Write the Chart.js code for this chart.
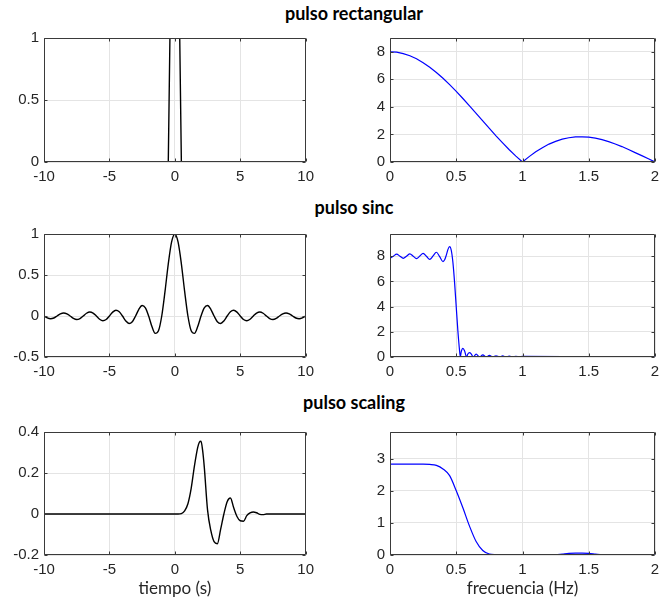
<!DOCTYPE html>
<html><head><meta charset="utf-8">
<script src="https://cdn.jsdelivr.net/npm/chart.js@4/dist/chart.umd.min.js"></script>
<style>
html,body{margin:0;padding:0;background:#fff;}
body{width:666px;height:604px;position:relative;overflow:hidden;}
.t{position:absolute;left:234px;width:240px;text-align:center;font-family:Lato,sans-serif;font-weight:bold;font-size:18px;line-height:22px;color:#000;white-space:nowrap;}
canvas{position:absolute;}
</style></head><body>
<div class="t" style="top:1.5px">pulso rectangular</div>
<div class="t" style="top:196px">pulso sinc</div>
<div class="t" style="top:390.5px">pulso scaling</div>
<script>
// ---- data ----
const tRect = [-10, -0.5, -0.375, 0.375, 0.5, 10];
const yRect = [0, 0, 1, 1, 0, 0];

const fRect = [0,0.05,0.1,0.15,0.2,0.25,0.3,0.35,0.4,0.45,0.5,0.55,0.6,0.65,0.7,0.75,0.8,0.85,0.9,0.95,1,1.05,1.1,1.15,1.2,1.25,1.3,1.35,1.4,1.45,1.5,1.55,1.6,1.65,1.7,1.75,1.8,1.85,1.9,1.95,2];
const magRect = [8.00,7.97,7.87,7.71,7.49,7.21,6.88,6.50,6.08,5.62,5.13,4.61,4.07,3.53,2.98,2.44,1.90,1.39,0.89,0.43,0.00,0.39,0.74,1.04,1.30,1.50,1.66,1.76,1.82,1.83,1.80,1.73,1.62,1.48,1.31,1.12,0.91,0.68,0.46,0.23,0.00];

const tSinc = [-10,-9.75,-9.5,-9.25,-9,-8.75,-8.5,-8.25,-8,-7.75,-7.5,-7.25,-7,-6.75,-6.5,-6.25,-6,-5.75,-5.5,-5.25,-5,-4.75,-4.5,-4.25,-4,-3.75,-3.5,-3.25,-3,-2.75,-2.5,-2.25,-2,-1.75,-1.5,-1.25,-1,-0.75,-0.5,-0.25,0,0.25,0.5,0.75,1,1.25,1.5,1.75,2,2.25,2.5,2.75,3,3.25,3.5,3.75,4,4.25,4.5,4.75,5,5.25,5.5,5.75,6,6.25,6.5,6.75,7,7.25,7.5,7.75,8,8.25,8.5,8.75,9,9.25,9.5,9.75,10];
const ySinc = [0,-0.0231,-0.0335,-0.0243,0,0.0257,0.0374,0.0273,0,-0.0290,-0.0424,-0.0310,0,0.0333,0.0490,0.0360,0,-0.0391,-0.0579,-0.0429,0,0.0474,0.0707,0.0530,0,-0.0600,-0.0909,-0.0693,0,0.0818,0.1273,0.1000,0,-0.1286,-0.2122,-0.1801,0,0.3001,0.6366,0.9003,1,0.9003,0.6366,0.3001,0,-0.1801,-0.2122,-0.1286,0,0.1000,0.1273,0.0818,0,-0.0693,-0.0909,-0.0600,0,0.0530,0.0707,0.0474,0,-0.0429,-0.0579,-0.0391,0,0.0360,0.0490,0.0333,0,-0.0310,-0.0424,-0.0290,0,0.0273,0.0374,0.0257,0,-0.0243,-0.0335,-0.0231,0];

const fSinc = [0,0.025,0.05,0.075,0.1,0.125,0.15,0.175,0.2,0.225,0.25,0.275,0.3,0.325,0.35,0.375,0.4,0.4125,0.425,0.4375,0.45,0.4625,0.475,0.4875,0.5,0.5125,0.525,0.531,0.5375,0.55,0.5625,0.578,0.5875,0.6,0.6125,0.628,0.65,0.677,0.7,0.727,0.75,0.777,0.8,0.827,0.85,0.877,0.9,0.927,0.95,0.977,1.0,1.5,2.0];
const magSinc = [7.84,8.00,8.16,8.00,7.83,8.00,8.18,8.00,7.81,8.01,8.22,7.99,7.75,8.02,8.31,7.96,7.57,7.71,8.08,8.54,8.76,8.46,7.49,5.90,3.96,2.04,0.51,0.00,0.41,0.68,0.50,0.00,0.24,0.35,0.25,0.00,0.23,0.00,0.17,0.00,0.13,0.00,0.10,0.00,0.09,0.00,0.07,0.00,0.06,0.00,0.05,0.02,0.00];

const tScal = [-10,0,0.25,0.5,0.75,1,1.25,1.5,1.75,1.875,2,2.125,2.25,2.5,2.75,3,3.25,3.5,3.75,4,4.25,4.5,4.75,5,5.25,5.5,5.75,6,6.25,6.5,6.75,7,10];
const yScal = [0,0,0,0.002,0.015,0.05,0.125,0.235,0.325,0.350,0.355,0.31,0.23,0.02,-0.08,-0.135,-0.145,-0.075,0,0.06,0.078,0.03,-0.012,-0.033,-0.035,-0.008,0.005,0.01,0.006,-0.002,-0.003,0,0];

const fScal = [0,0.05,0.1,0.15,0.2,0.25,0.3,0.35,0.4,0.45,0.5,0.55,0.6,0.65,0.7,0.75,0.8,0.85,0.9,0.95,1,1.05,1.1,1.15,1.2,1.25,1.3,1.35,1.4,1.45,1.5,1.55,1.6,1.65,1.7,1.75,1.8,1.85,1.9,1.95,2];
const magScal = [2.83,2.83,2.83,2.83,2.83,2.83,2.82,2.79,2.68,2.47,2.00,1.47,0.90,0.42,0.14,0.03,0.01,0,0,0,0,0,0,0,0,0.01,0.03,0.05,0.06,0.06,0.05,0.03,0.01,0,0,0,0,0,0,0,0];

// tick values
const timeTicks = [-10,-5,0,5,10];
const freqTicks = [0,0.5,1,1.5,2];
const yTicksRect = [0,0.5,1];
const yTicksSinc = [-0.5,0,0.5,1];
const yTicksScal = [-0.2,0,0.2,0.4];
const yTicksMag8 = [0,2,4,6,8];
const yTicksMag3 = [0,1,2,3];

const xLabelTime = 'tiempo (s)';
const xLabelFreq = 'frecuencia (Hz)';

// ---- drawing ----
const TICKFONT = {family:"'Liberation Sans', Arial, sans-serif", size:15};
const TXT = '#262626';
const fmt = v => String(Math.round(v*1000)/1000);
const boxPlugin = {
  id:'boxPlugin',
  afterDatasetsDraw(chart){
    const {ctx, chartArea:a, scales} = chart;
    ctx.save();
    ctx.strokeStyle = '#3a3a3a';
    ctx.lineWidth = 1;
    ctx.beginPath();
    const L=Math.round(a.left)+0.5, R=Math.round(a.right)-0.5, T=Math.round(a.top)+0.5, B=Math.round(a.bottom)-0.5;
    ctx.rect(L, T, R-L, B-T);
    const tl = 3;
    scales.x.ticks.forEach(tk=>{
      const px = Math.round(scales.x.getPixelForValue(tk.value))+0.5;
      ctx.moveTo(px,B); ctx.lineTo(px,B-tl);
      ctx.moveTo(px,T); ctx.lineTo(px,T+tl);
    });
    scales.y.ticks.forEach(tk=>{
      const py = Math.round(scales.y.getPixelForValue(tk.value))+0.5;
      ctx.moveTo(L,py); ctx.lineTo(L+tl,py);
      ctx.moveTo(R,py); ctx.lineTo(R-tl,py);
    });
    ctx.stroke();
    ctx.restore();
  }
};

function panel(p){
  const [cx,cy,W,H] = p.box;
  const [l,t,r,b] = p.area;
  const cv = document.createElement('canvas');
  cv.width = W; cv.height = H;
  cv.style.left = cx+'px'; cv.style.top = cy+'px';
  cv.style.width = W+'px'; cv.style.height = H+'px';
  document.body.appendChild(cv);
  const ds = {
    data: p.xs.map((x,i)=>({x:x, y:p.ys[i]})),
    showLine:true, borderColor:p.color, borderWidth:p.lw,
    pointRadius:0, fill:false
  };
  if (p.smooth) { ds.cubicInterpolationMode = 'monotone'; } else { ds.tension = 0; }
  return new Chart(cv, {
    type:'scatter',
    data:{datasets:[ds]},
    options:{
      responsive:false, animation:false, events:[],
      layout:{padding:{top:t-cy, right:cx+W-r, left:0, bottom:0}},
      plugins:{legend:{display:false}, tooltip:{enabled:false}, title:{display:false}},
      scales:{
        x:{
          type:'linear', min:p.xmin, max:p.xmax,
          afterFit: s=>{ s.height = cy+H-b; },
          afterBuildTicks: s=>{ s.ticks = p.xticks.map(v=>({value:v})); },
          grid:{color:'#e4e4e4', drawTicks:false, lineWidth:1},
          border:{display:false},
          ticks:{font:TICKFONT, color:TXT, padding:6, maxRotation:0, autoSkip:false, callback:fmt},
          title: p.xlabel ? {display:true, text:p.xlabel, color:TXT, font:{family:'Lato, sans-serif', size:17}, padding:{top:0,bottom:5}} : {display:false}
        },
        y:{
          type:'linear', min:p.ymin, max:p.ymax,
          afterFit: s=>{ s.width = l-cx; },
          afterBuildTicks: s=>{ s.ticks = p.yticks.map(v=>({value:v})); },
          grid:{color:'#e4e4e4', drawTicks:false, lineWidth:1},
          border:{display:false},
          ticks:{font:TICKFONT, color:TXT, padding:5, autoSkip:false, callback:fmt}
        }
      }
    },
    plugins:[boxPlugin]
  });
}

const BLK = '#000000', BLU = '#0000ff';
panel({box:[0,24,320,166], area:[44,33,307,162], xs:tRect, ys:yRect, color:BLK, lw:1.4, smooth:false,
  xmin:-10, xmax:10, ymin:0, ymax:1, xticks:timeTicks, yticks:yTicksRect});
panel({box:[335,24,331,166], area:[390,33,655,162], xs:fRect, ys:magRect, color:BLU, lw:1.2, smooth:false,
  xmin:0, xmax:2, ymin:0, ymax:9, xticks:freqTicks, yticks:yTicksMag8});
panel({box:[0,220,320,170], area:[44,228,307,357], xs:tSinc, ys:ySinc, color:BLK, lw:1.4, smooth:true,
  xmin:-10, xmax:10, ymin:-0.5, ymax:1, xticks:timeTicks, yticks:yTicksSinc});
panel({box:[335,220,331,170], area:[390,228,655,357], xs:fSinc, ys:magSinc, color:BLU, lw:1.2, smooth:true,
  xmin:0, xmax:2, ymin:0, ymax:9.76, xticks:freqTicks, yticks:yTicksMag8});
panel({box:[0,418,320,186], area:[44,428,307,555], xs:tScal, ys:yScal, color:BLK, lw:1.4, smooth:true,
  xmin:-10, xmax:10, ymin:-0.2, ymax:0.4, xticks:timeTicks, yticks:yTicksScal, xlabel:xLabelTime});
panel({box:[335,418,331,186], area:[390,428,655,555], xs:fScal, ys:magScal, color:BLU, lw:1.2, smooth:true,
  xmin:0, xmax:2, ymin:0, ymax:3.83, xticks:freqTicks, yticks:yTicksMag3, xlabel:xLabelFreq});
</script>
</body></html>
